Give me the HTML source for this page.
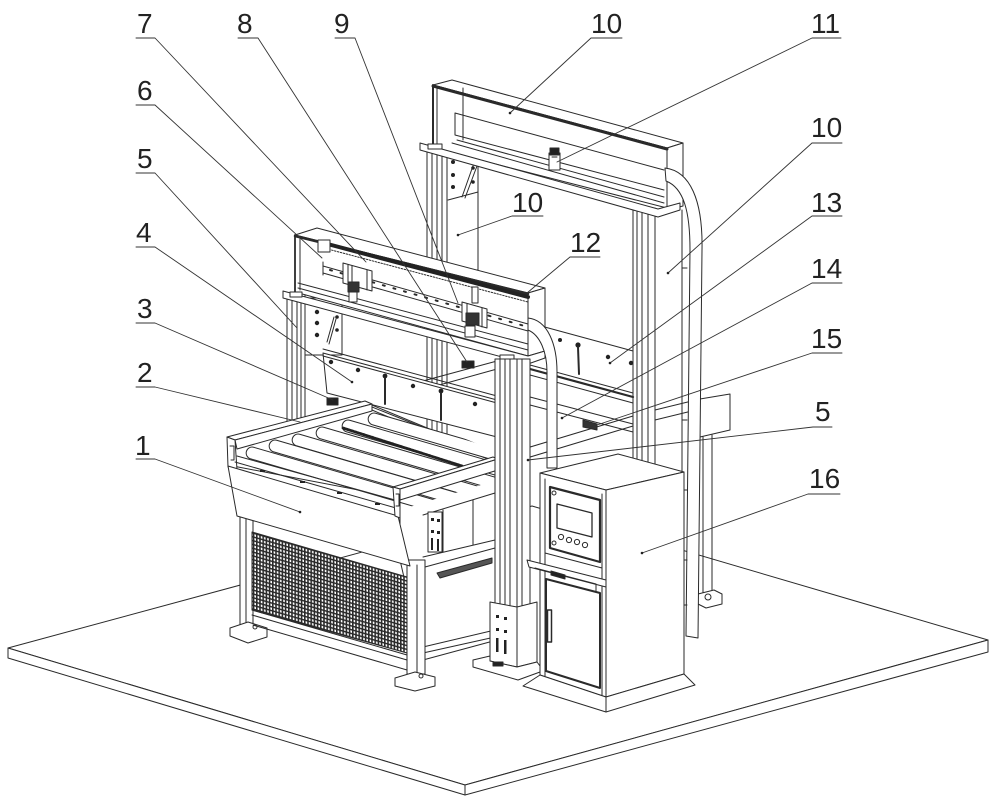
<!DOCTYPE html>
<html><head><meta charset="utf-8"><style>
html,body{margin:0;padding:0;background:#fff;}
svg{display:block;}
text{font-family:"Liberation Sans",Arial,sans-serif;font-size:28px;fill:#222;stroke:none;}
</style></head><body>
<svg xmlns="http://www.w3.org/2000/svg" width="1000" height="804" viewBox="0 0 1000 804">
<defs>
<pattern id="mesh" width="3.2" height="3.8" patternUnits="userSpaceOnUse" patternTransform="skewY(16)">
<rect width="3.2" height="3.8" fill="#fff"/>
<rect x="0" y="0" width="1.6" height="3.8" fill="#2a2a2a"/>
<rect x="0" y="0" width="3.2" height="1.5" fill="#2a2a2a"/>
</pattern>
<clipPath id="rollclip"><polygon points="233,436 372,400 497,452 497,480 400,510 233,480"/></clipPath>
</defs>
<g fill="#fff" stroke="#2a2a2a" stroke-width="1" stroke-linejoin="round" stroke-linecap="round">

<!-- PLATFORM -->
<polygon points="8,648 532,506 988,640 465,785"/>
<polygon points="8,648 465,785 465,795 8,658"/>
<polygon points="465,785 988,640 988,652 465,795"/>

<!-- REAR LEFT POST + PANEL -->
<rect x="427" y="146" width="20" height="330"/>
<path fill="none" d="M432,146V476M437,146V476M442,146V476"/>
<rect x="447" y="150" width="31" height="120"/>
<path fill="none" d="M448,200L478,192M462,197L474,163M465,198L477,166"/>
<g fill="#222" stroke="none">
<circle cx="453" cy="162" r="2"/><circle cx="453" cy="175" r="2"/><circle cx="453" cy="187" r="2"/>
<circle cx="473" cy="168" r="1.8"/><circle cx="473" cy="182" r="1.8"/>
</g>

<!-- REAR RIGHT POST -->
<rect x="633" y="208" width="22" height="265"/>
<path fill="none" d="M637,208V473M642,208V473M648,208V473"/>

<!-- REAR LOWER MEMBERS -->
<polygon points="530,323 633,351 633,393 530,365"/>
<g fill="#222" stroke="none"><circle cx="608" cy="357" r="2.2"/><circle cx="631" cy="363" r="2.2"/><circle cx="578" cy="345" r="2.6"/><circle cx="560" cy="340" r="2"/></g>
<line x1="578" y1="347" x2="579" y2="374" stroke-width="2"/>
<line x1="530" y1="369" x2="633" y2="397" stroke-width="2.2"/>
<line x1="530" y1="375" x2="633" y2="403"/>
<path fill="none" d="M530,397L633,424M530,405L633,432"/>
<path fill="none" d="M497,457L633,416M497,467L633,426M655,410L700,399M655,420L700,409"/>
<polygon points="583,420 597,424 597,430 583,427" fill="#333"/>

<!-- RIGHT CROSSBAR BOX + SMALL POST -->
<polygon points="700,399 730,394 730,430 700,437"/>
<path fill="none" d="M703,437V596M712,435V594"/>
<polygon points="698,594 714,590 722,594 722,604 706,608 698,604"/>
<circle cx="708" cy="597" r="3"/>

<!-- REAR BEAM -->
<polygon points="433,85 452,80 683,143 667,148"/>
<polygon points="433,85 667,148 667,208 433,148"/>
<polygon points="667,148 683,143 683,206 667,210"/>
<line x1="433" y1="86" x2="667" y2="149" stroke-width="3"/>
<line x1="433" y1="85" x2="433" y2="148" stroke-width="2"/>
<path fill="none" d="M437,88V146M463,88V140"/>
<path fill="none" d="M455,113L664,170M455,113V135M455,135L664,190M457,140L664,197M452,143L664,203"/>
<polygon points="420,143 658,209 680,203 680,210 658,217 420,150"/>
<rect x="428" y="144" width="14" height="5"/>
<!-- slider 11 -->
<rect x="549" y="153" width="11" height="17"/>
<rect x="550" y="148" width="9" height="7" fill="#222"/>
<line x1="552" y1="157" x2="557" y2="157"/>

<!-- REAR HOSE / DRAG CHAIN -->
<path d="M665,168 C690,171 703,200 702,250 L698,638 L686,636 L690,250 C690,212 684,188 666,181 Z"/>
<path fill="none" d="M682,210V640"/>
<path fill="none" d="M682,268h5M682,420h5M682,490h5M682,560h5M682,605h5"/>

<!-- FRONT LEFT POST -->
<rect x="287" y="293" width="18" height="152"/>
<path fill="none" d="M292,293V445M297,293V445M301,293V445"/>
<!-- bracket -->
<rect x="305" y="298" width="37" height="57"/>
<g fill="#222" stroke="none"><circle cx="317" cy="312" r="2.2"/><circle cx="317" cy="323" r="2.2"/><circle cx="317" cy="335" r="2.2"/><circle cx="337" cy="317" r="1.8"/><circle cx="337" cy="330" r="1.8"/></g>
<path fill="none" d="M327,342L334,317M329,344L336,319"/>

<!-- rear-bottom of front frame brace -->
<path fill="none" d="M423,381L497,361M425,389L497,369"/>

<!-- PLATE 4 -->
<polygon points="323,353 497,400 497,437 327,393"/>
<path fill="none" d="M323,349L497,396M323,356L497,403"/>
<g fill="#222" stroke="none"><circle cx="331" cy="362" r="2.2"/><circle cx="358" cy="370" r="2.2"/><circle cx="413" cy="386" r="2.2"/><circle cx="475" cy="404" r="2.2"/><circle cx="385" cy="376" r="2.4"/><circle cx="441" cy="391" r="2.4"/></g>
<path fill="none" stroke-width="2" d="M385,378V404M441,393V420"/>
<rect x="327" y="398" width="11" height="7" fill="#222"/>
<rect x="462" y="361" width="12" height="7" fill="#222"/>

<!-- FRONT BEAM -->
<polygon points="295,235 317,228 545,288 528,293"/>
<polygon points="295,235 528,293 528,356 295,292"/>
<polygon points="528,293 545,288 545,351 528,356"/>
<line x1="295" y1="236" x2="528" y2="294" stroke-width="2.5"/>
<line x1="295" y1="235" x2="295" y2="292" stroke-width="1.8"/>
<path fill="none" d="M300,238V290"/>
<line x1="320" y1="242" x2="528" y2="297" stroke="#222" stroke-width="4"/>
<line x1="320" y1="247" x2="528" y2="302" stroke-dasharray="1.5 1.5"/>
<rect x="318" y="240" width="12" height="12"/>
<path fill="none" d="M323,266L528,324M323,273L528,331M323,262V275"/>
<line x1="330" y1="270" x2="528" y2="327" stroke-dasharray="2 9" stroke-width="2"/>
<path fill="none" d="M298,283L528,344M298,288L528,350"/>
<polygon points="283,291 528,356 545,351 545,358 528,364 283,298"/>
<rect x="290" y="292" width="12" height="5"/>
<rect x="500" y="355" width="14" height="5"/>
<!-- slider 1 -->
<polygon points="343,263 372,271 372,291 343,283"/>
<path fill="none" d="M348,265V285M352,266V286M367,270V290"/>
<rect x="348" y="282" width="11" height="10" fill="#333"/>
<rect x="349" y="292" width="8" height="10"/>
<!-- slider 2 -->
<rect x="472" y="287" width="6" height="16"/>
<polygon points="462,302 487,309 487,328 462,321"/>
<path fill="none" d="M467,304V323M482,308V327"/>
<rect x="466" y="313" width="13" height="12" fill="#333"/>
<rect x="465" y="326" width="10" height="11"/>

<!-- LOWER TABLE: back side panel -->
<polygon points="400,500 497,470 497,640 423,660 400,560"/>
<path fill="none" d="M423,515L495,493M423,557L495,540M425,567L495,548M423,647L495,630M423,653L495,637M443,510V552M473,500V545"/>
<rect x="428" y="512" width="14" height="40"/>
<g fill="#222" stroke="none"><rect x="431" y="518" width="3" height="3"/><rect x="437" y="519" width="3" height="3"/><rect x="431" y="530" width="3" height="3"/><rect x="437" y="531" width="3" height="3"/><rect x="431" y="538" width="2" height="12"/><rect x="437" y="539" width="2" height="12"/></g>
<polygon points="437,573 492,558 492,563 440,578" fill="#555"/>

<!-- legs -->
<rect x="240" y="512" width="13" height="116"/>
<line x1="246" y1="512" x2="246" y2="628"/>
<polygon points="230,628 248,622 267,628 267,637 248,643 230,636"/>
<circle cx="255" cy="627" r="2"/>
<rect x="407" y="560" width="18" height="114"/>
<line x1="417" y1="565" x2="417" y2="674"/>
<polygon points="395,678 415,672 435,677 435,686 415,691 395,686"/>
<circle cx="421" cy="676" r="2"/>

<!-- mesh -->
<polygon points="252,532 407,577 407,653 252,610" fill="url(#mesh)"/>
<path fill="none" d="M252,610L407,655M253,625L407,670M252,615L407,660"/>

<!-- conveyor rear rail & interior -->
<polygon points="235,440 367,405 497,457 497,470 400,498 233,466" />
<path fill="none" d="M367,403L497,457M372,410L497,463"/>

<!-- rollers -->
<g clip-path="url(#rollclip)">
<path d="M605.67,480.24 L375.67,413.24 A6 6 0 0 0 372.33,424.76 L602.33,491.76 Z"/>
<path d="M579.67,487.24 L349.67,420.24 A6 6 0 0 0 346.33,431.76 L576.33,498.76 Z"/>
<path d="M553.67,494.24 L323.67,427.24 A6 6 0 0 0 320.33,438.76 L550.33,505.76 Z"/>
<path d="M529.67,501.24 L299.67,434.24 A6 6 0 0 0 296.33,445.76 L526.33,512.76 Z"/>
<path d="M506.67,507.24 L276.67,440.24 A6 6 0 0 0 273.33,451.76 L503.33,518.76 Z"/>
<path d="M483.67,514.24 L253.67,447.24 A6 6 0 0 0 250.33,458.76 L480.33,525.76 Z"/>
<line x1="343" y1="428" x2="462" y2="466" stroke="#222" stroke-width="2.8" stroke-dasharray="2 1"/>
</g>

<!-- left rail -->
<polygon points="227,437 365,401 372,404 235,440"/>
<polygon points="235,440 372,404 372,411 237,449"/>
<polygon points="227,437 235,440 237,470 228,467"/>
<path fill="none" d="M230,446h4v14h-3"/>

<!-- skirt -->
<polygon points="228,466 398,516 410,566 237,516"/>
<path fill="none" d="M237,456L395,500M235,462L396,508"/>
<g fill="#222" stroke="none"><rect x="260" y="470" width="5" height="2"/><rect x="300" y="481" width="5" height="2"/><rect x="337" y="492" width="5" height="2"/><rect x="375" y="503" width="5" height="2"/></g>

<!-- right rail + end profile -->
<polygon points="393,487 493,457 498,459 400,489"/>
<polygon points="400,489 498,459 498,470 400,500"/>
<polygon points="393,487 400,489 400,518 395,516"/>
<path fill="none" d="M396,494h3v12h-3"/>

<!-- FRONT RIGHT POST -->
<rect x="495" y="359" width="35" height="305"/>
<path fill="none" d="M500,359V664M505,359V664M510,359V664M517,359V664M522,359V664"/>
<polygon points="490,602 517,607 517,667 490,661"/>
<polygon points="517,607 537,602 537,662 517,667"/>
<g fill="#222" stroke="none"><rect x="496" y="615" width="3" height="3"/><rect x="504" y="617" width="3" height="3"/><rect x="496" y="628" width="3" height="3"/><rect x="504" y="630" width="3" height="3"/><rect x="496" y="638" width="2.5" height="14"/><rect x="504" y="640" width="2.5" height="14"/></g>
<polygon points="473,660 490,656 490,661 517,667 537,662 540,666 540,672 518,680 473,667"/>
<rect x="493" y="662" width="10" height="4" fill="#222"/>

<!-- FRONT HOSE -->
<path d="M528,318 C548,320 557,345 557,372 L557,468 L547,468 L547,372 C547,352 540,335 528,330 Z"/>

<!-- CABINET -->
<polygon points="540,473 618,454 684,472 606,490"/>
<polygon points="540,473 606,490 606,697 540,675"/>
<polygon points="606,490 684,472 684,674 606,697"/>
<polygon points="540,675 606,697 606,712 523,686"/>
<polygon points="606,697 684,674 695,685 606,712"/>
<path fill="none" d="M545,479V676M602,494V695M545,553L602,568"/>
<polygon points="550,487 600,500 600,562 550,548" stroke-width="2.2"/>
<polygon points="557,504 592,513 592,537 557,528" stroke-width="1.3"/>
<circle cx="554" cy="493" r="2"/><circle cx="554" cy="543" r="2"/>
<circle cx="561" cy="537" r="2.6"/><circle cx="569" cy="540" r="2.6"/><circle cx="577" cy="542" r="2.6"/><circle cx="585" cy="545" r="2.6"/>
<polygon points="527,560 606,580 606,587 529,567"/>
<path fill="none" d="M535,568L596,584V591"/>
<polygon points="551,571 565,575 565,579 551,575" fill="#222"/>
<polygon points="546,579 600,593 600,688 546,671" stroke-width="2"/>
<rect x="547.5" y="610" width="4" height="32" stroke-width="1.5"/>

<!-- LEADERS -->
<g fill="none" stroke="#333" stroke-width="0.9">
<path d="M136,38H155L366,262"/>
<path d="M238,38H258L467,362"/>
<path d="M335,38H355L458,303"/>
<path d="M136,105H155L322,258"/>
<path d="M136,173H155L297,328"/>
<path d="M136,247H155L352,382"/>
<path d="M136,323H155L333,400"/>
<path d="M136,387H155L300,422"/>
<path d="M136,459H155L300,512"/>
<path d="M622,38H591L510,113"/>
<path d="M841,38H812L557,162"/>
<path d="M842,143H812L668,273"/>
<path d="M842,216H812L610,363"/>
<path d="M842,283H812L562,418"/>
<path d="M842,353H812L588,428"/>
<path d="M832,427H813L528,460"/>
<path d="M840,494H808L642,553"/>
<path d="M543,216H512L458,235"/>
<path d="M600,257H570L527,293"/>
</g>
<g fill="#222" stroke="none">
<circle cx="510" cy="113" r="1.3"/><circle cx="668" cy="273" r="1.3"/><circle cx="610" cy="363" r="1.3"/>
<circle cx="562" cy="418" r="1.3"/><circle cx="528" cy="460" r="1.3"/><circle cx="642" cy="553" r="1.3"/>
<circle cx="458" cy="235" r="1.3"/><circle cx="352" cy="382" r="1.3"/><circle cx="300" cy="512" r="1.3"/>
</g>
</g>

<!-- LABELS -->
<text x="137" y="33">7</text>
<text x="237" y="33">8</text>
<text x="334" y="33">9</text>
<text x="137" y="100">6</text>
<text x="137" y="168">5</text>
<text x="136" y="242">4</text>
<text x="137" y="318">3</text>
<text x="137" y="382">2</text>
<text x="135" y="455">1</text>
<text x="591" y="33">10</text>
<text x="811" y="33">11</text>
<text x="811" y="137">10</text>
<text x="811" y="212">13</text>
<text x="811" y="278">14</text>
<text x="811" y="348">15</text>
<text x="815" y="421">5</text>
<text x="809" y="488">16</text>
<text x="512" y="212">10</text>
<text x="570" y="252">12</text>
</svg>
</body></html>
